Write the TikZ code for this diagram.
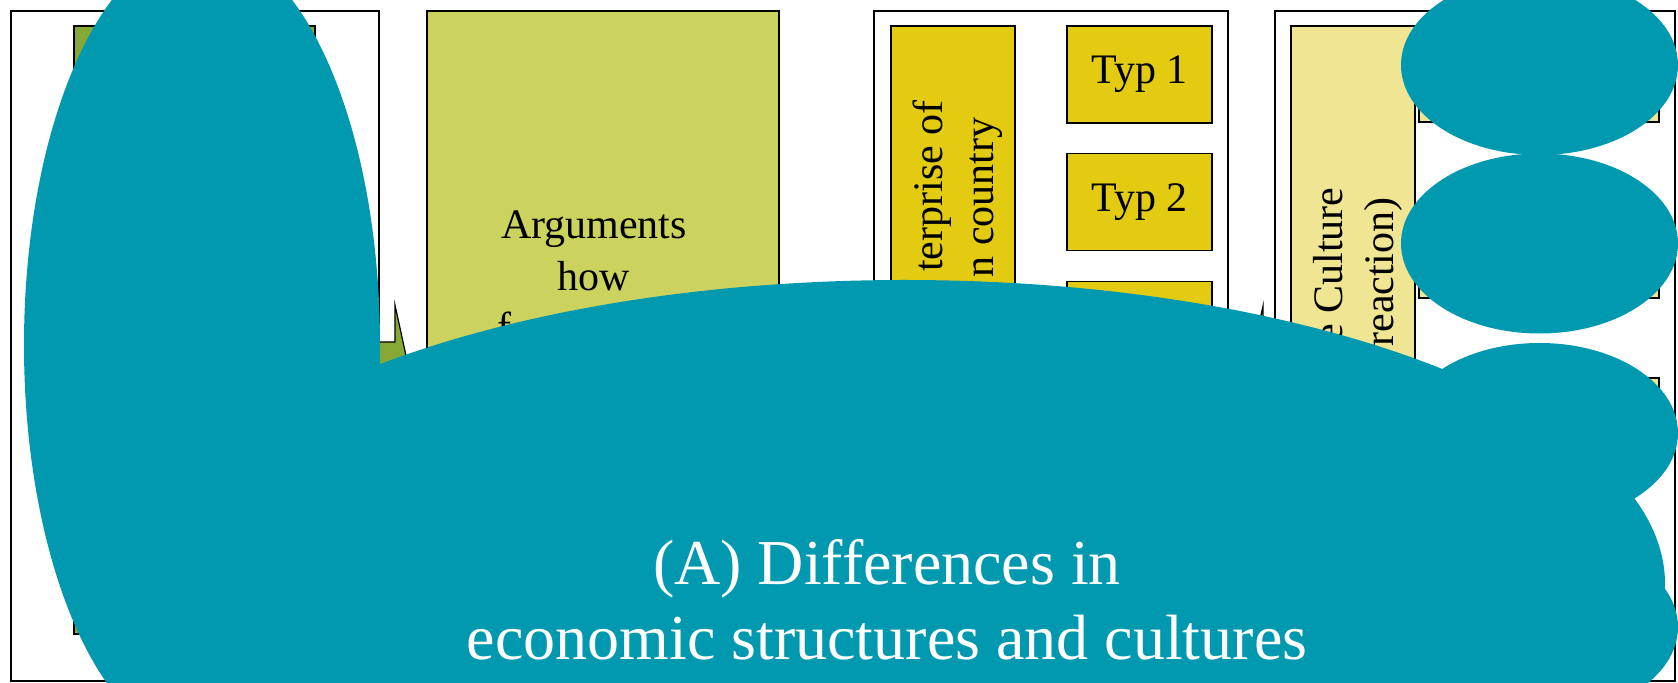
\documentclass[tikz,border=0pt]{standalone}
\usepackage{fontspec}
\setmainfont{Liberation Serif}
\definecolor{blobteal}{RGB}{0,153,176}
\definecolor{leafgreen}{RGB}{134,168,52}
\definecolor{limefill}{RGB}{203,211,94}
\definecolor{goldfill}{RGB}{226,203,17}
\definecolor{paleyellow}{RGB}{239,229,146}
\tikzset{
  panel/.style={draw, fill=white, line width=0.6pt, inner sep=0pt},
  box/.style={draw, line width=0.6pt, inner sep=0pt, font=\fontsize{21}{26}\selectfont},
  label/.style={inner sep=0pt, font=\fontsize{21}{26}\selectfont},
  vtext/.style={label, rotate=90, anchor=base east},
  blob/.style={fill=blobteal},
}
\begin{document}
\begin{tikzpicture}[x=0.5pt,y=-0.5pt]
  \useasboundingbox (0,0) rectangle (1678,683);
  \clip (0,0) rectangle (1678,683);
  % four panels
  \node[panel, minimum width=184pt, minimum height=335pt] (frameA) at (195,346) {};
  \node[panel, fill=limefill, minimum width=176pt, minimum height=335pt] (argbox) at (603,346) {};
  \node[panel, minimum width=177pt, minimum height=335pt] (frameC) at (1051,346) {};
  \node[panel, minimum width=200pt, minimum height=335pt] (frameD) at (1475,346) {};
  % inner boxes
  \node[box, fill=leafgreen, minimum width=120.5pt, minimum height=304pt] (greenbox) at (194.5,330) {};
  \node[box, fill=goldfill, minimum width=62pt, minimum height=304pt] (homebox) at (953,330) {};
  \node[box, fill=paleyellow, minimum width=62pt, minimum height=304pt] (cultbox) at (1353,330) {};
  \foreach \i/\y in {1/74.5,2/202,3/330}
    \node[box, fill=goldfill, minimum width=72.5pt, minimum height=48.5pt] (typ\i) at (1139.5,\y) {Typ \i};
  \foreach \i/\y/\h in {1/74/48,2/250/48,3/426/48,4/602/32}
    \node[box, fill=paleyellow, minimum width=120pt, minimum height=\h pt] (react\i) at (1539,\y) {};
  % texts
  \node[label, anchor=north, align=center] (argtext) at (594,210) {Arguments\\how};
  \node[label, anchor=base west] (argtail) at (497,342) {f};
  \node[vtext] (home1) at (942,100) {terprise of};
  \node[vtext] (home2) at (993,117) {n country};
  \node[vtext] (cult1) at (1342,187) {e Culture};
  \node[vtext] (cult2) at (1393,197) {reaction)};
  % block arrows between panels
  \draw[fill=leafgreen, line width=0.6pt] (340,342) -- (395,342) -- (395,305) -- (420,420)
    -- (395,535) -- (395,498) -- (340,498) -- cycle;
  \draw[fill=goldfill, line width=0.6pt] (1300,342) -- (1263,342) -- (1263,306) -- (1238,420)
    -- (1263,534) -- (1263,498) -- (1300,498) -- cycle;
  % covering shapes
  \fill[blob] (202,345) ellipse [x radius=178, y radius=400];
  \fill[blob] (905,584) ellipse [x radius=760, y radius=304];
  \foreach \y in {65,243.5,433,627}
    \fill[blob] (1539.5,\y) ellipse [x radius=138.5, y radius=90];
  \node[inner sep=0pt, anchor=base, align=center, text=white,
    font=\fontsize{32}{37.5}\selectfont] (title) at (887,660)
    {(A) Differences in\\economic structures and cultures};
\end{tikzpicture}
\end{document}
